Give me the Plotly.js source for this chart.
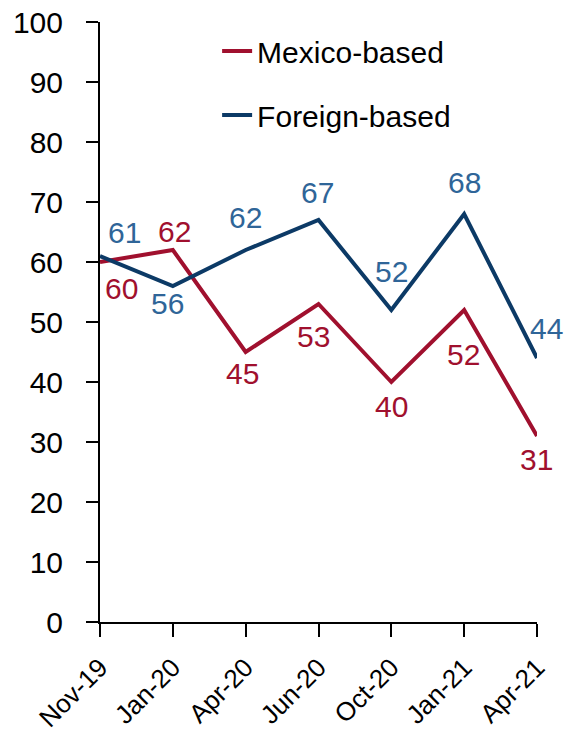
<!DOCTYPE html>
<html>
<head>
<meta charset="utf-8">
<script src="https://cdn.plot.ly/plotly-3.0.1.min.js"></script>
<style>
  html, body { margin: 0; padding: 0; background: #fff; }
  #gd { width: 568px; height: 735px; }
</style>
</head>
<body>
<div id="gd"></div>
<script>
// survey dates (categorical axis)
var months = ['Nov-19', 'Jan-20', 'Apr-20', 'Jun-20', 'Oct-20', 'Jan-21', 'Apr-21'];
var mexicoBased = [60, 62, 45, 53, 40, 52, 31];
var foreignBased = [61, 56, 62, 67, 52, 68, 44];

var yTicks = [0, 10, 20, 30, 40, 50, 60, 70, 80, 90, 100];

// label nudges in pixels (x right, y up), as placed in the original
var mexicoLabelShift = [[21, -26], [2, 19], [-3, -21], [-5, -32], [0, -24], [-1, -44], [-1, -23]];
var foreignLabelShift = [[24, 24], [-5, -17], [0, 33], [-1, 28], [0, 39], [0, 32], [9, 30]];

var font = 'Liberation Sans, Arial, sans-serif';
var mexicoColor = '#A0102E';
var foreignColor = '#0C3A66';
var foreignLabelColor = '#2F6598';

var mexico = {
    x: months,
    y: mexicoBased,
    mode: 'lines',
    name: 'Mexico-based',
    legendgroup: 'a',
    line: { color: mexicoColor, width: 4 }
};

var foreign = {
    x: months,
    y: foreignBased,
    mode: 'lines',
    name: 'Foreign-based',
    legendgroup: 'b',
    line: { color: foreignColor, width: 4 }
};

function valueLabels(values, shifts, color) {
    return values.map(function (v, i) {
        return {
            x: months[i],
            y: v,
            xref: 'x',
            yref: 'y',
            text: String(v),
            showarrow: false,
            xanchor: 'center',
            yanchor: 'middle',
            xshift: shifts[i][0],
            yshift: shifts[i][1],
            font: { family: font, size: 30, color: color }
        };
    });
}

var layout = {
    width: 568,
    height: 735,
    margin: { l: 100, r: 31, t: 22, b: 113 },
    paper_bgcolor: '#fff',
    plot_bgcolor: '#fff',
    font: { family: font, size: 30, color: '#000' },
    showlegend: true,
    legend: {
        x: 0.268, y: 0.995, xanchor: 'left', yanchor: 'top',
        bgcolor: 'rgba(0,0,0,0)',
        font: { family: font, size: 30, color: '#000' },
        traceorder: 'grouped',
        tracegroupgap: 22
    },
    annotations: valueLabels(mexicoBased, mexicoLabelShift, mexicoColor)
        .concat(valueLabels(foreignBased, foreignLabelShift, foreignLabelColor)),
    xaxis: {
        type: 'category',
        range: [0, months.length - 1],
        showgrid: false,
        zeroline: false,
        showline: true,
        linecolor: '#000',
        linewidth: 2,
        ticks: 'outside',
        ticklen: 13,
        tickwidth: 2,
        tickcolor: '#000',
        tickangle: -45,
        ticklabelstandoff: 5,
        tickfont: { family: font, size: 26 }
    },
    yaxis: {
        range: [0, 100],
        tickvals: yTicks,
        showgrid: false,
        zeroline: false,
        showline: true,
        linecolor: '#000',
        linewidth: 2,
        ticks: 'outside',
        ticklen: 12,
        tickwidth: 2,
        tickcolor: '#000',
        ticklabelstandoff: 17,
        tickfont: { family: font, size: 30 }
    }
};

Plotly.newPlot('gd', [mexico, foreign], layout, { displayModeBar: false, staticPlot: true });
</script>
</body>
</html>
